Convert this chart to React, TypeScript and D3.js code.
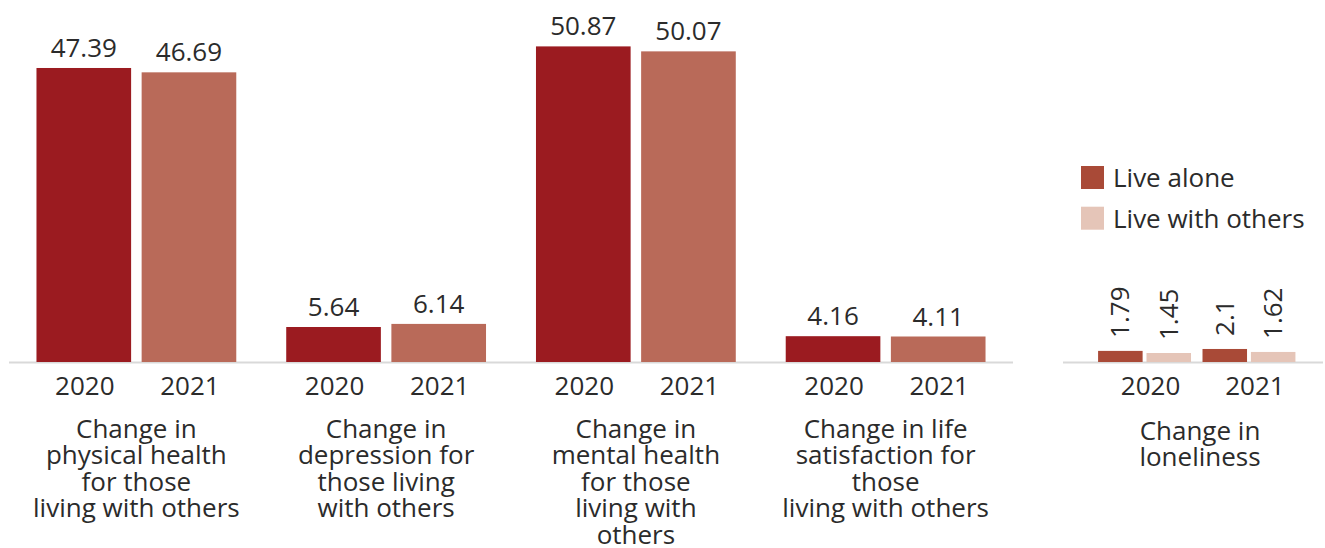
import React from "react";
import * as d3 from "d3";

const categoryLines: string[][] = [
  ["Change in", "physical health", "for those", "living with others"],
  ["Change in", "depression for", "those living", "with others"],
  ["Change in", "mental health", "for those", "living with", "others"],
  ["Change in life", "satisfaction for", "those", "living with others"],
];
const years = ["2020", "2021"];
const values2020 = [47.39, 5.64, 50.87, 4.16];
const values2021 = [46.69, 6.14, 50.07, 4.11];

const lonelinessLabel = ["Change in", "loneliness"];
const lonelinessYears = ["2020", "2021"];
const liveAlone = [1.79, 2.1];
const liveWithOthers = [1.45, 1.62];
const legendLabels = ["Live alone", "Live with others"];

const W = 1325;
const H = 548;
const FONT = "'Open Sans', sans-serif";
const TEXT = "#2b2b2b";
const AXIS = "#d9d9d9";
const yearColors = ["#9b1b20", "#b96a59"];
const livingColors = ["#a94a37", "#e5c5b8"];

export default function App() {
  const baseY = 362;
  const y = d3.scaleLinear().domain([0, 50.87]).range([baseY, 46.4]);

  // Left panel
  const x0 = d3
    .scaleBand<number>()
    .domain(d3.range(categoryLines.length))
    .range([9, 1013])
    .paddingInner(0.2)
    .paddingOuter(0.11);
  const x1 = d3.scaleBand<string>().domain(years).range([0, x0.bandwidth()]).paddingInner(0.1);

  // Right panel
  const rx0 = d3
    .scaleBand<string>()
    .domain(lonelinessYears)
    .range([1063, 1323])
    .paddingInner(0.11)
    .paddingOuter(0.3)
    .align(0.56);
  const rx1 = d3
    .scaleBand<number>()
    .domain([0, 1])
    .range([0, rx0.bandwidth()])
    .paddingInner(0.08);

  const leftData = categoryLines.map((lines, i) => ({
    lines,
    vals: [values2020[i], values2021[i]],
  }));
  const rightData = lonelinessYears.map((yr, i) => ({
    yr,
    vals: [liveAlone[i], liveWithOthers[i]],
  }));

  return (
    <svg
      width={W}
      height={H}
      style={{ position: "absolute", left: 0, top: 0, display: "block" }}
      fontFamily={FONT}
    >
      <rect width={W} height={H} fill="#fff" />
      {/* Left panel axis */}
      <line x1={9} x2={1013} y1={baseY + 0.5} y2={baseY + 0.5} stroke={AXIS} strokeWidth={2} />
      {leftData.map((d, i) => {
        const gx = x0(i)!;
        const cx = gx + x0.bandwidth() / 2;
        return (
          <g key={i}>
            {years.map((yr, j) => {
              const bx = gx + x1(yr)!;
              const top = y(d.vals[j]);
              return (
                <g key={yr}>
                  <rect x={bx} y={top} width={x1.bandwidth()} height={baseY - top} fill={yearColors[j]} />
                  <text
                    x={bx + x1.bandwidth() / 2}
                    y={top - 11}
                    textAnchor="middle"
                    fontSize={26}
                    fill={TEXT}
                  >
                    {d.vals[j]}
                  </text>
                  <text
                    x={bx + x1.bandwidth() / 2 + 1}
                    y={baseY + 33}
                    textAnchor="middle"
                    fontSize={26}
                    fill={TEXT}
                  >
                    {yr}
                  </text>
                </g>
              );
            })}
            <text textAnchor="middle" fontSize={26} fill={TEXT}>
              {d.lines.map((ln, k) => (
                <tspan key={k} x={cx} y={438 + k * 26.4}>
                  {ln}
                </tspan>
              ))}
            </text>
          </g>
        );
      })}

      {/* Right panel */}
      <line x1={1063} x2={1323} y1={baseY + 0.5} y2={baseY + 0.5} stroke={AXIS} strokeWidth={2} />
      {rightData.map((d) => {
        const gx = rx0(d.yr)!;
        return (
          <g key={d.yr}>
            {[0, 1].map((j) => {
              const bx = gx + rx1(j)!;
              const top = y(d.vals[j]);
              const cx = bx + rx1.bandwidth() / 2;
              const ty = top - 13;
              return (
                <g key={j}>
                  <rect x={bx} y={top} width={rx1.bandwidth()} height={baseY - top} fill={livingColors[j]} />
                  <text
                    transform={`translate(${cx + 9},${ty}) rotate(-90)`}
                    textAnchor="start"
                    fontSize={26}
                    fill={TEXT}
                  >
                    {d.vals[j]}
                  </text>
                </g>
              );
            })}
            <text
              x={gx + rx0.bandwidth() / 2 + 6}
              y={baseY + 33}
              textAnchor="middle"
              fontSize={26}
              fill={TEXT}
            >
              {d.yr}
            </text>
          </g>
        );
      })}
      <text textAnchor="middle" fontSize={26} fill={TEXT}>
        {lonelinessLabel.map((ln, k) => (
          <tspan key={k} x={1200} y={440 + k * 26.4}>
            {ln}
          </tspan>
        ))}
      </text>

      {/* Legend */}
      {legendLabels.map((lab, i) => (
        <g key={lab} transform={`translate(1081,${166 + i * 40.7})`}>
          <rect width={23} height={23} fill={livingColors[i]} />
          <text x={32} y={21} fontSize={26} fill={TEXT}>
            {lab}
          </text>
        </g>
      ))}
    </svg>
  );
}
